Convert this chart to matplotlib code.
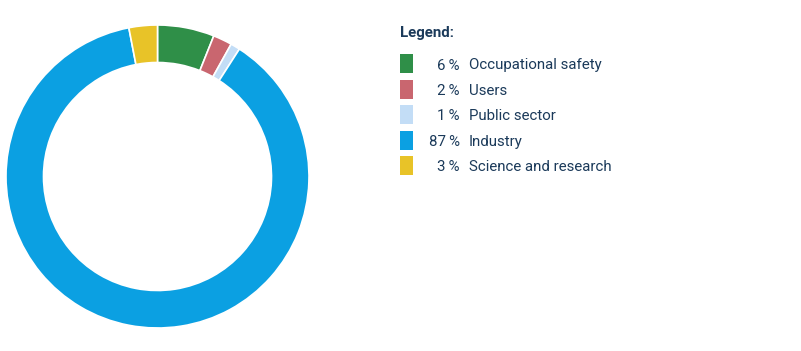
import matplotlib
matplotlib.use("Agg")
import matplotlib.pyplot as plt
from matplotlib.patches import Rectangle

# ── data ─────────────────────────────────────────────────────────────────────
labels = ["Occupational safety", "Users", "Public sector", "Industry", "Science and research"]
values = [6, 2, 1, 87, 3]
colors = ["#2f8f48", "#c9666f", "#c3ddf6", "#0ba0e2", "#e8c328"]

TEXT = "#1b3a5a"
W, H = 801, 351

fig = plt.figure(figsize=(W / 100, H / 100), dpi=100)
plt.rcParams["font.family"] = ["Roboto", "DejaVu Sans"]

# donut: centre (157.5, 176.5) px, outer radius 151.5 px, inner 114 px
cx, cy, r = 157.5, 176.5, 151.5
ax = fig.add_axes([(cx - r) / W, (H - cy - r) / H, 2 * r / W, 2 * r / H])
ax.pie(values, colors=colors, startangle=90, counterclock=False, radius=1,
       wedgeprops=dict(width=(r - 114) / r, edgecolor="white", linewidth=1.2))
ax.set_xlim(-1, 1)
ax.set_ylim(-1, 1)
ax.set_aspect("auto")
ax.axis("off")

# ── legend ───────────────────────────────────────────────────────────────────
fs = 10.8
fig.text(400 / W, 1 - 33 / H, "Legend:", fontsize=fs, fontweight="bold",
         color=TEXT, va="center", ha="left")

y0, dy = 63.5, 25.5
for i, (lab, val, col) in enumerate(zip(labels, values, colors)):
    yc = y0 + i * dy
    fig.patches.append(Rectangle((400 / W, 1 - (yc + 9.5) / H), 13 / W, 19 / H,
                                 transform=fig.transFigure, facecolor=col,
                                 edgecolor="none"))
    fig.text(460 / W, 1 - (yc + 2) / H, f"{val}\u2009%", fontsize=fs, color=TEXT,
             va="center", ha="right")
    fig.text(469 / W, 1 - (yc + 2) / H, lab, fontsize=fs, color=TEXT,
             va="center", ha="left")

fig.savefig("out.png", dpi=100, facecolor="white")
